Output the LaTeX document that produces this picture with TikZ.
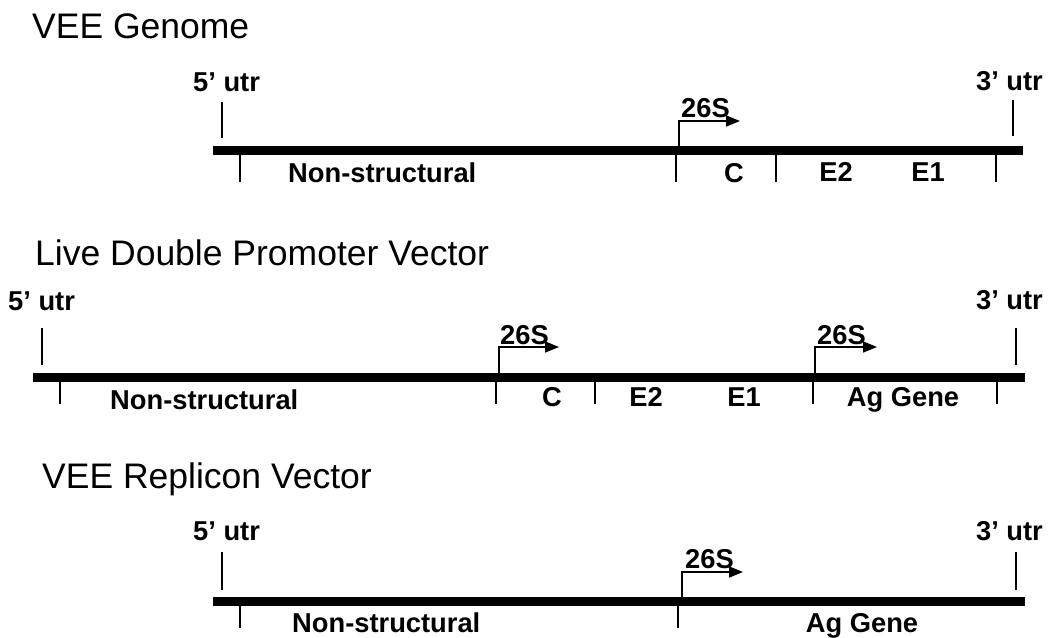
\documentclass[tikz,border=0pt]{standalone}
\usepackage{fontspec}
\setmainfont{Liberation Sans}
\usetikzlibrary{arrows.meta}
\begin{document}
\begin{tikzpicture}[x=1pt,y=-1pt,
  ttl/.style={anchor=base west,inner sep=0pt,font=\fontsize{35.5}{40}\selectfont},
  lbl/.style={anchor=base west,inner sep=0pt,font=\bfseries\fontsize{27.3}{30}\selectfont},
  lblr/.style={anchor=base east,inner sep=0pt,font=\bfseries\fontsize{27.3}{30}\selectfont},
  lblc/.style={anchor=base,inner sep=0pt,font=\bfseries\fontsize{27.3}{30}\selectfont},
  bar/.style={line width=9pt},
  tick/.style={line width=1.4pt},
  prom/.style={line width=1.6pt,-{Triangle[length=14pt,width=11pt]}}]
\useasboundingbox (0,0) rectangle (1051,637);
% ---------- Panel 1: VEE Genome ----------
\node[ttl] (t1) at (32,38) {VEE Genome};
\coordinate (b1s) at (213,150); \coordinate (b1e) at (1023,150);
\draw[bar] (b1s) -- (b1e);
\node[lbl] (u5a) at (193,91) {5’ utr};
\node[lblr] (u3a) at (1043,90) {3’ utr};
\draw[tick] (222,102) -- (222,138);
\draw[tick] (1013,100) -- (1013,136);
\foreach \x in {240,676,776,996} \draw[tick] (\x,150) -- (\x,182);
\coordinate (p1a) at (679,150); \coordinate (p1b) at (679,121); \coordinate (p1c) at (740,121);
\draw[prom] (p1a) -- (p1b) -- (p1c);
\node[lbl] (s1) at (681,117) {26S};
\node[lbl] (ns1) at (288,182) {Non-structural};
\node[lblc] (c1) at (734,182) {C};
\node[lblc] (e2a) at (836,181) {E2};
\node[lblc] (e1a) at (928,181) {E1};
% ---------- Panel 2: Live Double Promoter Vector ----------
\node[ttl] (t2) at (35,265) {Live Double Promoter Vector};
\coordinate (b2s) at (33,377.5); \coordinate (b2e) at (1025,377.5);
\draw[bar] (b2s) -- (b2e);
\node[lbl] (u5b) at (8,310) {5’ utr};
\node[lblr] (u3b) at (1043,309) {3’ utr};
\draw[tick] (42,328) -- (42,365);
\draw[tick] (1016,328) -- (1016,365);
\foreach \x in {60,496,595,813,997} \draw[tick] (\x,377) -- (\x,404);
\coordinate (p2a) at (499,377); \coordinate (p2b) at (499,347); \coordinate (p2c) at (559,347);
\draw[prom] (p2a) -- (p2b) -- (p2c);
\node[lbl] (s2) at (500,344) {26S};
\coordinate (p3a) at (815,377); \coordinate (p3b) at (815,347); \coordinate (p3c) at (877,347);
\draw[prom] (p3a) -- (p3b) -- (p3c);
\node[lbl] (s3) at (817,344) {26S};
\node[lbl] (ns2) at (110,409) {Non-structural};
\node[lblc] (c2) at (552,406) {C};
\node[lblc] (e2b) at (646,406) {E2};
\node[lblc] (e1b) at (744,406) {E1};
\node[lblc] (ag2) at (903,406) {Ag Gene};
% ---------- Panel 3: VEE Replicon Vector ----------
\node[ttl] (t3) at (42,488) {VEE Replicon Vector};
\coordinate (b3s) at (213,601); \coordinate (b3e) at (1025,601);
\draw[bar] (b3s) -- (b3e);
\node[lbl] (u5c) at (193,540) {5’ utr};
\node[lblr] (u3c) at (1043,540) {3’ utr};
\draw[tick] (222,552) -- (222,590);
\draw[tick] (1016,552) -- (1016,590);
\foreach \x in {240,678} \draw[tick] (\x,601) -- (\x,628);
\coordinate (p4a) at (682,601); \coordinate (p4b) at (682,572); \coordinate (p4c) at (743,572);
\draw[prom] (p4a) -- (p4b) -- (p4c);
\node[lbl] (s4) at (685,568) {26S};
\node[lbl] (ns3) at (292,632) {Non-structural};
\node[lblc] (ag3) at (862,632) {Ag Gene};
\end{tikzpicture}
\end{document}
